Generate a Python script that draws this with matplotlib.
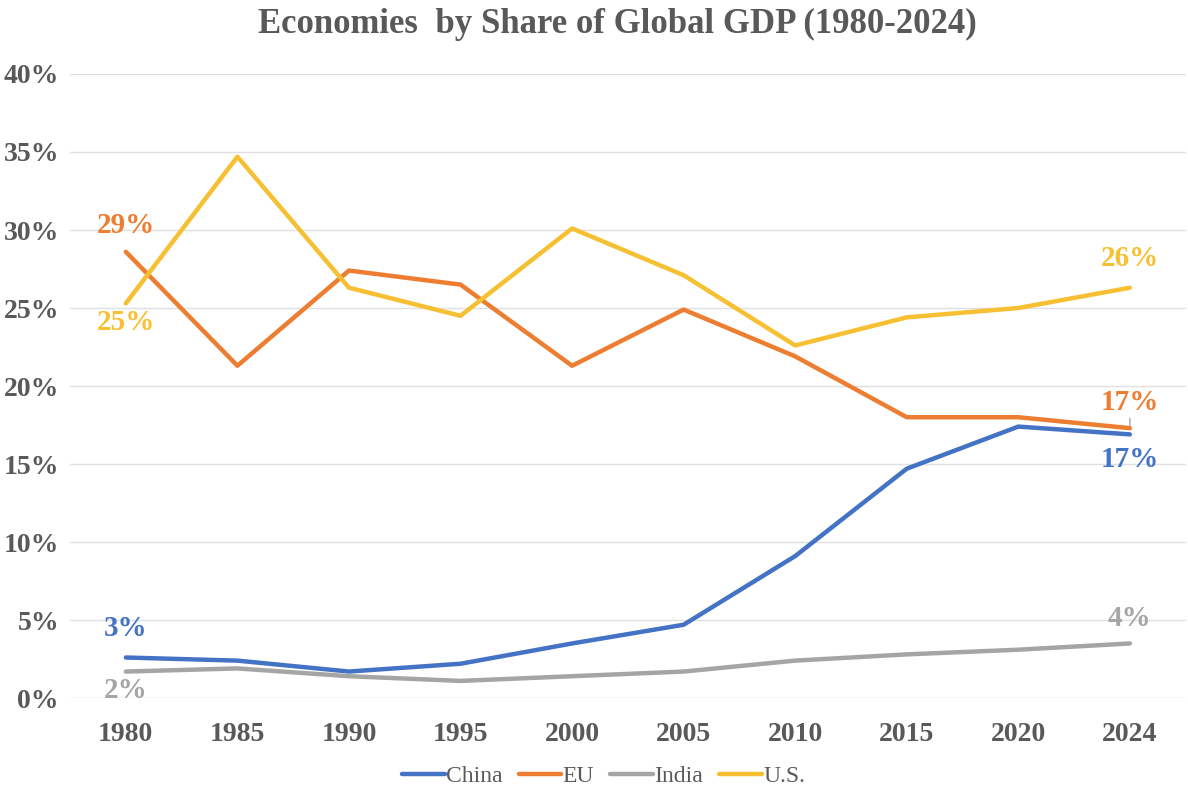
import numpy as np
import matplotlib.pyplot as plt

years = ["1980", "1985", "1990", "1995", "2000", "2005", "2010", "2015", "2020", "2024"]
china = [2.6, 2.4, 1.7, 2.2, 3.5, 4.7, 9.1, 14.7, 17.4, 16.9]
eu = [28.6, 21.3, 27.4, 26.5, 21.3, 24.9, 21.9, 18.0, 18.0, 17.3]
india = [1.7, 1.9, 1.4, 1.1, 1.4, 1.7, 2.4, 2.8, 3.1, 3.5]
us = [25.3, 34.7, 26.3, 24.5, 30.1, 27.1, 22.6, 24.4, 25.0, 26.3]

c_china = "#4472C4"
c_eu = "#ED7D31"
c_india = "#A5A5A5"
c_us = "#F7C033"

plt.rcParams['font.family'] = ['Liberation Serif', 'DejaVu Serif']

fig = plt.figure(figsize=(11.88, 7.87), dpi=100)
ax = fig.add_axes([0.059, 0.113, 0.939, 0.793])

x = np.arange(len(years))
lw = 3.2
ax.plot(x, china, color=c_china, lw=lw, label="China", solid_capstyle='round', solid_joinstyle='round')
ax.plot(x, eu, color=c_eu, lw=lw, label="EU", solid_capstyle='round', solid_joinstyle='round')
ax.plot(x, india, color=c_india, lw=lw, label="India", solid_capstyle='round', solid_joinstyle='round')
ax.plot(x, us, color=c_us, lw=lw, label="U.S.", solid_capstyle='round', solid_joinstyle='round')

ax.set_xlim(-0.5, len(years) - 0.5)
ax.set_ylim(0, 40)
ax.set_yticks(np.arange(0, 41, 5))
ax.set_yticklabels([f"{v}%" for v in range(0, 41, 5)])
ax.set_xticks(x)
ax.set_xticklabels(years)
ax.grid(axis='y', color="#E0E0E0", lw=1)
ax.set_axisbelow(True)
for s in ax.spines.values():
    s.set_visible(False)
ax.tick_params(length=0, labelsize=20, labelcolor="#595959")
for t in ax.get_xticklabels() + ax.get_yticklabels():
    t.set_fontweight('bold')
ax.tick_params(axis='y', pad=8)
ax.tick_params(axis='x', pad=17)

lab = dict(fontsize=21, fontweight='bold', ha='center')
last = len(years) - 1
ax.annotate(f"{round(china[0])}%", (0, china[0]), xytext=(0, 11), textcoords='offset points', va='bottom', color=c_china, **lab)
ax.annotate(f"{round(china[last])}%", (last, china[last]), xytext=(0, -8), textcoords='offset points', va='top', color=c_china, **lab)
ax.annotate(f"{round(eu[0])}%", (0, eu[0]), xytext=(0, 9), textcoords='offset points', va='bottom', color=c_eu, **lab)
ax.annotate(f"{round(eu[last])}%", (last, eu[last]), xytext=(0, 9), textcoords='offset points', va='bottom', color=c_eu,
            arrowprops=dict(arrowstyle='-', color="#A5A5A5", lw=1, shrinkA=0, shrinkB=2), **lab)
ax.annotate(f"{round(india[0])}%", (0, india[0]), xytext=(0, -4), textcoords='offset points', va='top', color=c_india, **lab)
ax.annotate(f"{round(india[last])}%", (last, india[last]), xytext=(0, 8), textcoords='offset points', va='bottom', color=c_india, **lab)
ax.annotate(f"{round(us[0])}%", (0, us[0]), xytext=(0, -4), textcoords='offset points', va='top', color=c_us, **lab)
ax.annotate(f"{round(us[last])}%", (last, us[last]), xytext=(0, 11), textcoords='offset points', va='bottom', color=c_us, **lab)

fig.suptitle("Economies  by Share of Global GDP (1980-2024)", x=0.52, y=0.99, fontsize=25,
             fontweight='bold', color="#595959")

leg = fig.legend(loc='lower center', bbox_to_anchor=(0.508, -0.027), ncol=4, frameon=False,
                 fontsize=17, handlelength=1.8, columnspacing=0.7, handletextpad=0.05)
for t in leg.get_texts():
    t.set_color("#595959")

fig.savefig("out.png", dpi=100)
